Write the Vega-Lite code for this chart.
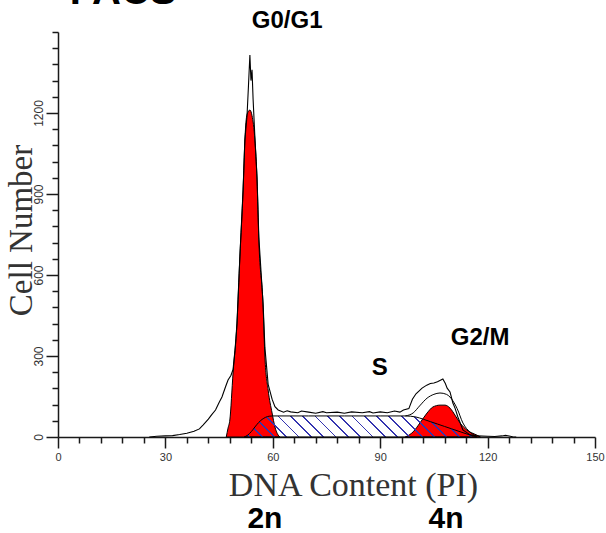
{
  "$schema": "https://vega.github.io/schema/vega-lite/v6.json",
  "width": 537,
  "height": 405,
  "autosize": {"type": "none"},
  "padding": {"left": 58, "top": 32, "right": 11, "bottom": 96},
  "background": "white",
  "config": {"view": {"stroke": null}, "axis": {"grid": false}},
  "datasets": {
    "raw": [
      {"x": 25.5, "y": 0}, {"x": 27.6, "y": 3}, {"x": 30, "y": 4}, {"x": 32, "y": 5}, {"x": 34, "y": 9},
      {"x": 36, "y": 14}, {"x": 38, "y": 21}, {"x": 39.5, "y": 30}, {"x": 40.5, "y": 44}, {"x": 42, "y": 66},
      {"x": 43, "y": 84}, {"x": 44, "y": 100}, {"x": 45, "y": 128}, {"x": 45.8, "y": 148}, {"x": 46.8, "y": 186},
      {"x": 47.5, "y": 211}, {"x": 48.3, "y": 228}, {"x": 48.9, "y": 250}, {"x": 49.5, "y": 330}, {"x": 50, "y": 422},
      {"x": 50.8, "y": 667}, {"x": 51.7, "y": 915}, {"x": 52.2, "y": 1100}, {"x": 52.8, "y": 1190}, {"x": 53.2, "y": 1300},
      {"x": 53.6, "y": 1415}, {"x": 53.9, "y": 1320}, {"x": 54.2, "y": 1360}, {"x": 54.5, "y": 1250}, {"x": 55, "y": 1110},
      {"x": 55.6, "y": 960}, {"x": 56.1, "y": 740}, {"x": 57.3, "y": 490}, {"x": 57.8, "y": 330}, {"x": 58.7, "y": 195},
      {"x": 59.8, "y": 140}, {"x": 60.6, "y": 112}, {"x": 61.5, "y": 100}, {"x": 63, "y": 92}, {"x": 64, "y": 97},
      {"x": 65, "y": 93}, {"x": 67, "y": 90}, {"x": 68, "y": 96}, {"x": 70, "y": 92}, {"x": 72, "y": 88},
      {"x": 74, "y": 94}, {"x": 75, "y": 90}, {"x": 78, "y": 92}, {"x": 80, "y": 88}, {"x": 82, "y": 93},
      {"x": 85, "y": 90}, {"x": 87, "y": 94}, {"x": 88, "y": 89}, {"x": 90, "y": 93}, {"x": 92, "y": 90},
      {"x": 94, "y": 96}, {"x": 95.5, "y": 92}, {"x": 96.5, "y": 100}, {"x": 98, "y": 105}, {"x": 99, "y": 140},
      {"x": 100, "y": 160}, {"x": 101.7, "y": 181}, {"x": 103, "y": 192}, {"x": 104, "y": 198}, {"x": 105, "y": 200},
      {"x": 106, "y": 205}, {"x": 107.5, "y": 215}, {"x": 108.2, "y": 198}, {"x": 108.7, "y": 181}, {"x": 109.5, "y": 167},
      {"x": 110.3, "y": 126}, {"x": 110.9, "y": 107}, {"x": 111.7, "y": 74}, {"x": 113.1, "y": 26}, {"x": 115.1, "y": 8},
      {"x": 117, "y": 4}, {"x": 120, "y": 3}, {"x": 122, "y": 2}, {"x": 124, "y": 4}, {"x": 125, "y": 6},
      {"x": 126, "y": 4}, {"x": 127, "y": 1}, {"x": 128, "y": 0}
    ],
    "g1": [
      {"x": 47, "y": 0}, {"x": 47.5, "y": 33}, {"x": 48, "y": 63}, {"x": 48.9, "y": 237}, {"x": 50, "y": 422},
      {"x": 50.8, "y": 667}, {"x": 51.7, "y": 915}, {"x": 52.2, "y": 1100}, {"x": 52.8, "y": 1195}, {"x": 53.6, "y": 1211},
      {"x": 54.2, "y": 1190}, {"x": 55, "y": 1100}, {"x": 55.6, "y": 952}, {"x": 56.1, "y": 730}, {"x": 57.3, "y": 481},
      {"x": 57.8, "y": 296}, {"x": 58.7, "y": 174}, {"x": 59.8, "y": 89}, {"x": 60.6, "y": 37}, {"x": 61.5, "y": 7},
      {"x": 62, "y": 0}
    ],
    "g2": [
      {"x": 97, "y": 0}, {"x": 99.2, "y": 19}, {"x": 101.1, "y": 52}, {"x": 103.1, "y": 89}, {"x": 104.7, "y": 111},
      {"x": 106.7, "y": 118}, {"x": 108.1, "y": 118}, {"x": 109.5, "y": 107}, {"x": 110.9, "y": 81}, {"x": 112.3, "y": 52},
      {"x": 114.2, "y": 26}, {"x": 117, "y": 7}, {"x": 118, "y": 0}
    ],
    "sphase": [
      {"x": 52, "y": 0}, {"x": 53, "y": 7}, {"x": 54, "y": 20}, {"x": 55, "y": 37}, {"x": 56, "y": 53},
      {"x": 57, "y": 65}, {"x": 58, "y": 73}, {"x": 59, "y": 77}, {"x": 60, "y": 78}, {"x": 70, "y": 78},
      {"x": 80, "y": 78}, {"x": 90, "y": 78}, {"x": 97, "y": 78}, {"x": 100, "y": 74}, {"x": 102, "y": 66},
      {"x": 104, "y": 57}, {"x": 106, "y": 48}, {"x": 108, "y": 39}, {"x": 110, "y": 30}, {"x": 112, "y": 21},
      {"x": 114, "y": 12}, {"x": 116, "y": 4}, {"x": 117, "y": 0}
    ],
    "fit": [
      {"x": 97, "y": 78}, {"x": 99.2, "y": 89}, {"x": 101, "y": 115}, {"x": 103.1, "y": 144}, {"x": 105, "y": 158},
      {"x": 106.7, "y": 163}, {"x": 108.5, "y": 158}, {"x": 109.5, "y": 148}, {"x": 111.5, "y": 105}, {"x": 113.1, "y": 52},
      {"x": 115.1, "y": 18}, {"x": 117, "y": 3}
    ],
    "phaseLabels": [
      {"x": 64, "y": 1515, "label": "G0/G1"},
      {"x": 89.9, "y": 230, "label": "S"},
      {"x": 117.9, "y": 341, "label": "G2/M"}
    ],
    "ploidyLabels": [
      {"x": 57.8, "y": -337, "label": "2n"},
      {"x": 108.4, "y": -337, "label": "4n"}
    ],
    "heading": [
      {"x": 3.3, "y": 1604, "label": "FACS"}
    ]
  },
  "layer": [
    {
      "data": {"name": "g1"},
      "mark": {"type": "area", "fill": "#ff0000", "stroke": "#000000", "strokeWidth": 1, "interpolate": "monotone"},
      "encoding": {
        "x": {"field": "x", "type": "quantitative", "scale": {"domain": [0, 150], "nice": false, "zero": false},
          "axis": {"orient": "bottom", "values": [0, 30, 60, 90, 120, 150], "tickSize": 11, "tickWidth": 1.5,
            "tickColor": "#1a1a1a", "domainColor": "#1a1a1a", "domainWidth": 1.5,
            "labelFont": "Liberation Sans", "labelFontSize": 11, "labelColor": "#333333", "labelPadding": 3,
            "labelFlush": false, "labelOverlap": false,
            "title": "DNA Content (PI)", "titleFont": "Liberation Serif", "titleFontSize": 34, "titleFontWeight": "normal",
            "titleColor": "#333333", "titleX": 295, "titleY": 58, "titleAlign": "center", "titleBaseline": "alphabetic"}},
        "y": {"field": "y", "type": "quantitative", "scale": {"domain": [0, 1500], "nice": false},
          "axis": {"orient": "left", "values": [0, 300, 600, 900, 1200], "format": "d", "tickSize": 12, "tickWidth": 1.5,
            "tickColor": "#1a1a1a", "domainColor": "#1a1a1a", "domainWidth": 1.5,
            "labelFont": "Liberation Sans", "labelFontSize": 12, "labelColor": "#333333", "labelPadding": 1,
            "labelAngle": -90, "labelAlign": "center", "labelBaseline": "bottom", "labelOverlap": false, "labelFlush": false,
            "title": "Cell Number", "titleFont": "Liberation Serif", "titleFontSize": 33, "titleFontWeight": "normal",
            "titleColor": "#333333", "titleAngle": -90, "titleX": -27, "titleY": 198, "titleAlign": "center", "titleBaseline": "alphabetic"}}
      }
    },
    {
      "data": {"name": "g2"},
      "mark": {"type": "area", "fill": "#ff0000", "stroke": "#000000", "strokeWidth": 1, "interpolate": "monotone"},
      "encoding": {
        "x": {"field": "x", "type": "quantitative", "scale": {"domain": [0, 150], "nice": false, "zero": false},
          "axis": {"orient": "bottom", "values": [6, 12, 18, 24, 36, 42, 48, 54, 66, 72, 78, 84, 96, 102, 108, 114, 126, 132, 138, 144],
            "tickSize": 6, "tickWidth": 1.5, "tickColor": "#1a1a1a", "labels": false, "domain": false, "title": null}},
        "y": {"field": "y", "type": "quantitative", "scale": {"domain": [0, 1500], "nice": false},
          "axis": {"orient": "left", "values": [60, 120, 180, 240, 360, 420, 480, 540, 660, 720, 780, 840, 960, 1020, 1080, 1140, 1260, 1320, 1380, 1440, 1500],
            "tickSize": 6, "tickWidth": 1.5, "tickColor": "#1a1a1a", "labels": false, "domain": false, "title": null}}
      }
    },
    {
      "data": {"name": "sphase"},
      "mark": {"type": "area", "stroke": "#000000", "strokeWidth": 1, "interpolate": "monotone",
        "fill": {"gradient": "linear", "x1": 0, "y1": 1, "x2": 1, "y2": 0.9095,
          "stops": [
            {"offset": 0, "color": "rgba(255,255,255,0)"},
            {"offset": 0.02, "color": "rgba(255,255,255,0)"}, {"offset": 0.02, "color": "#3434b0"}, {"offset": 0.028, "color": "#3434b0"}, {"offset": 0.028, "color": "rgba(255,255,255,0)"},
            {"offset": 0.0725, "color": "rgba(255,255,255,0)"}, {"offset": 0.0725, "color": "#3434b0"}, {"offset": 0.0805, "color": "#3434b0"}, {"offset": 0.0805, "color": "rgba(255,255,255,0)"},
            {"offset": 0.125, "color": "rgba(255,255,255,0)"}, {"offset": 0.125, "color": "#3434b0"}, {"offset": 0.133, "color": "#3434b0"}, {"offset": 0.133, "color": "rgba(255,255,255,0)"},
            {"offset": 0.1775, "color": "rgba(255,255,255,0)"}, {"offset": 0.1775, "color": "#3434b0"}, {"offset": 0.1855, "color": "#3434b0"}, {"offset": 0.1855, "color": "rgba(255,255,255,0)"},
            {"offset": 0.23, "color": "rgba(255,255,255,0)"}, {"offset": 0.23, "color": "#3434b0"}, {"offset": 0.238, "color": "#3434b0"}, {"offset": 0.238, "color": "rgba(255,255,255,0)"},
            {"offset": 0.2825, "color": "rgba(255,255,255,0)"}, {"offset": 0.2825, "color": "#3434b0"}, {"offset": 0.2905, "color": "#3434b0"}, {"offset": 0.2905, "color": "rgba(255,255,255,0)"},
            {"offset": 0.335, "color": "rgba(255,255,255,0)"}, {"offset": 0.335, "color": "#3434b0"}, {"offset": 0.343, "color": "#3434b0"}, {"offset": 0.343, "color": "rgba(255,255,255,0)"},
            {"offset": 0.3875, "color": "rgba(255,255,255,0)"}, {"offset": 0.3875, "color": "#3434b0"}, {"offset": 0.3955, "color": "#3434b0"}, {"offset": 0.3955, "color": "rgba(255,255,255,0)"},
            {"offset": 0.44, "color": "rgba(255,255,255,0)"}, {"offset": 0.44, "color": "#3434b0"}, {"offset": 0.448, "color": "#3434b0"}, {"offset": 0.448, "color": "rgba(255,255,255,0)"},
            {"offset": 0.4925, "color": "rgba(255,255,255,0)"}, {"offset": 0.4925, "color": "#3434b0"}, {"offset": 0.5005, "color": "#3434b0"}, {"offset": 0.5005, "color": "rgba(255,255,255,0)"},
            {"offset": 0.545, "color": "rgba(255,255,255,0)"}, {"offset": 0.545, "color": "#3434b0"}, {"offset": 0.553, "color": "#3434b0"}, {"offset": 0.553, "color": "rgba(255,255,255,0)"},
            {"offset": 0.5975, "color": "rgba(255,255,255,0)"}, {"offset": 0.5975, "color": "#3434b0"}, {"offset": 0.6055, "color": "#3434b0"}, {"offset": 0.6055, "color": "rgba(255,255,255,0)"},
            {"offset": 0.65, "color": "rgba(255,255,255,0)"}, {"offset": 0.65, "color": "#3434b0"}, {"offset": 0.658, "color": "#3434b0"}, {"offset": 0.658, "color": "rgba(255,255,255,0)"},
            {"offset": 0.7025, "color": "rgba(255,255,255,0)"}, {"offset": 0.7025, "color": "#3434b0"}, {"offset": 0.7105, "color": "#3434b0"}, {"offset": 0.7105, "color": "rgba(255,255,255,0)"},
            {"offset": 0.755, "color": "rgba(255,255,255,0)"}, {"offset": 0.755, "color": "#3434b0"}, {"offset": 0.763, "color": "#3434b0"}, {"offset": 0.763, "color": "rgba(255,255,255,0)"},
            {"offset": 0.8075, "color": "rgba(255,255,255,0)"}, {"offset": 0.8075, "color": "#3434b0"}, {"offset": 0.8155, "color": "#3434b0"}, {"offset": 0.8155, "color": "rgba(255,255,255,0)"},
            {"offset": 0.86, "color": "rgba(255,255,255,0)"}, {"offset": 0.86, "color": "#3434b0"}, {"offset": 0.868, "color": "#3434b0"}, {"offset": 0.868, "color": "rgba(255,255,255,0)"},
            {"offset": 0.9125, "color": "rgba(255,255,255,0)"}, {"offset": 0.9125, "color": "#3434b0"}, {"offset": 0.9205, "color": "#3434b0"}, {"offset": 0.9205, "color": "rgba(255,255,255,0)"},
            {"offset": 0.965, "color": "rgba(255,255,255,0)"}, {"offset": 0.965, "color": "#3434b0"}, {"offset": 0.973, "color": "#3434b0"}, {"offset": 0.973, "color": "rgba(255,255,255,0)"},
            {"offset": 1, "color": "rgba(255,255,255,0)"}
          ]}},
      "encoding": {
        "x": {"field": "x", "type": "quantitative", "scale": {"domain": [0, 150], "nice": false, "zero": false}, "axis": null},
        "y": {"field": "y", "type": "quantitative", "scale": {"domain": [0, 1500], "nice": false}, "axis": null}
      }
    },
    {
      "data": {"name": "fit"},
      "mark": {"type": "line", "color": "#000000", "strokeWidth": 1, "interpolate": "monotone"},
      "encoding": {
        "x": {"field": "x", "type": "quantitative", "scale": {"domain": [0, 150], "nice": false, "zero": false}, "axis": null},
        "y": {"field": "y", "type": "quantitative", "scale": {"domain": [0, 1500], "nice": false}, "axis": null}
      }
    },
    {
      "data": {"name": "raw"},
      "mark": {"type": "line", "color": "#000000", "strokeWidth": 1.1},
      "encoding": {
        "x": {"field": "x", "type": "quantitative", "scale": {"domain": [0, 150], "nice": false, "zero": false}, "axis": null},
        "y": {"field": "y", "type": "quantitative", "scale": {"domain": [0, 1500], "nice": false}, "axis": null}
      }
    },
    {
      "data": {"name": "phaseLabels"},
      "mark": {"type": "text", "font": "Liberation Sans", "fontWeight": "bold", "fontSize": 24, "align": "center", "baseline": "alphabetic", "color": "#000000"},
      "encoding": {
        "x": {"field": "x", "type": "quantitative", "scale": {"domain": [0, 150], "nice": false, "zero": false}, "axis": null},
        "y": {"field": "y", "type": "quantitative", "scale": {"domain": [0, 1500], "nice": false}, "axis": null},
        "text": {"field": "label"}
      }
    },
    {
      "data": {"name": "ploidyLabels"},
      "mark": {"type": "text", "font": "Liberation Sans", "fontWeight": "bold", "fontSize": 30, "align": "center", "baseline": "alphabetic", "color": "#000000"},
      "encoding": {
        "x": {"field": "x", "type": "quantitative", "scale": {"domain": [0, 150], "nice": false, "zero": false}, "axis": null},
        "y": {"field": "y", "type": "quantitative", "scale": {"domain": [0, 1500], "nice": false}, "axis": null},
        "text": {"field": "label"}
      }
    },
    {
      "data": {"name": "heading"},
      "mark": {"type": "text", "font": "Liberation Sans", "fontWeight": "bold", "fontSize": 40, "align": "left", "baseline": "alphabetic", "color": "#000000"},
      "encoding": {
        "x": {"field": "x", "type": "quantitative", "scale": {"domain": [0, 150], "nice": false, "zero": false}, "axis": null},
        "y": {"field": "y", "type": "quantitative", "scale": {"domain": [0, 1500], "nice": false}, "axis": null},
        "text": {"field": "label"}
      }
    }
  ],
  "resolve": {"axis": {"x": "independent", "y": "independent"}}
}
